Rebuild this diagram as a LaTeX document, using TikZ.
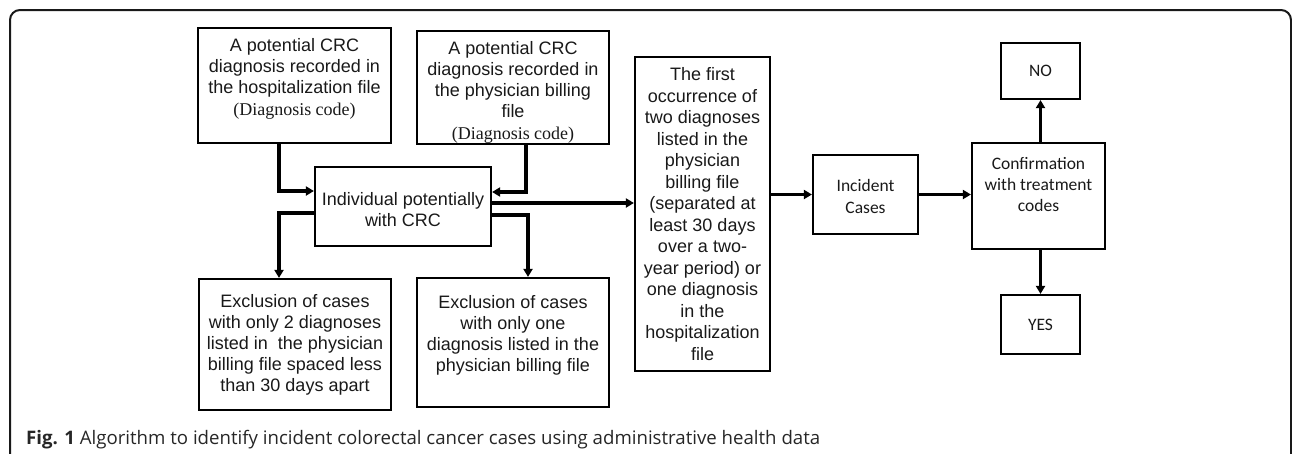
\documentclass[tikz,border=0pt]{standalone}
\usepackage{fontspec}
\usepackage{graphicx}
\setmainfont{Liberation Sans}
\newfontfamily\tnr{Liberation Serif}
\newfontfamily\calib{Carlito}
\newfontfamily\capfont{Open Sans}
\usetikzlibrary{arrows.meta}
\newcommand{\bxt}[4]{\parbox[c][#2][#3]{#1}{\centering #4}}
\begin{document}
\begin{tikzpicture}[x=1pt,y=-1pt,
  box/.style={draw=black, line width=2.2pt, inner sep=0pt, text=black!90, font=\fontsize{18}{21}\selectfont},
  cbox/.style={box, font=\calib\fontsize{17.5}{22}\selectfont},
  arr/.style={line width=3.2pt, -{Triangle[length=8pt,width=9pt]}}]
\useasboundingbox (0,0) rectangle (1292,453);
\draw[line width=2pt, rounded corners=10pt, black!90] (10,500) -- (10,10) -- (1291,10) -- (1291,500);

\node[box] (A) at (294.5,85.5) {\bxt{193pt}{115pt}{t}{\vspace*{10pt}A potential CRC\\ diagnosis recorded in\\ the hospitalization file\\[1pt] {\tnr (Diagnosis code)}}};
\node[box] (B) at (513,87.5) {\bxt{192pt}{113pt}{t}{\vspace*{10pt}A potential CRC\\ diagnosis recorded in\\ the physician billing\\ file\\[1pt] {\tnr (Diagnosis code)}}};
\node[box] (C) at (403,206.5) {\bxt{176pt}{79pt}{c}{\vspace*{6pt}Individual potentially\\ with CRC}};
\node[box] (D) at (295,344.5) {\bxt{192pt}{131pt}{c}{Exclusion of cases\\ with only 2 diagnoses\\ listed in\ \ the physician\\ billing file spaced less\\ than 30 days apart}};
\node[box] (E) at (513,342.5) {\bxt{192pt}{129pt}{t}{\vspace*{17pt}Exclusion of cases\\ with only one\\ diagnosis listed in the\\ physician billing file}};
\node[box, font=\fontsize{18}{21.5}\selectfont] (F) at (702.5,214) {\bxt{135pt}{314pt}{c}{The first\\ occurrence of\\ two diagnoses\\ listed in the\\ physician\\ billing file\\ (separated at\\ least 30 days\\ over a two-\\ year period) or\\ one diagnosis\\ in the\\ hospitalization\\ file}};
\node[cbox] (G) at (865.5,194.5) {\bxt{105pt}{79pt}{c}{\vspace*{3pt}Incident\\ Cases}};
\node[cbox, font=\calib\fontsize{17.5}{21}\selectfont] (H) at (1038.5,196) {\bxt{133pt}{106pt}{t}{\vspace*{14pt}Confirmation\\ with treatment\\ codes}};
\node[cbox] (NO) at (1040.5,71) {\bxt{79pt}{56pt}{c}{NO}};
\node[cbox] (YES) at (1040.5,324.5) {\bxt{79pt}{59pt}{c}{YES}};

\draw[arr] ([xshift=-15.5pt]A.south) |- ([yshift=15.5pt]C.west);
\draw[arr] ([xshift=13pt]B.south) |- ([yshift=14.5pt]C.east);
\draw[arr] ([yshift=-6.5pt]C.west) -| ([xshift=-16pt]D.north);
\draw[arr] ([yshift=-8.5pt]C.east) -| ([xshift=15pt]E.north);
\coordinate (cf) at ([yshift=3.5pt]C.east);
\draw[arr] (cf) -- (cf -| F.west);
\draw[arr] (F.east |- G.west) -- (G.west);
\draw[arr] (G.east) -- (G.east -| H.west);
\draw[arr] (NO.south |- H.north) -- (NO.south);
\draw[arr] (YES.north |- H.south) -- (YES.north);

\node[anchor=base west, inner sep=0pt, text=black!85, font=\capfont\fontsize{18.6}{22}\selectfont] (cap) at (26,444) {\resizebox{794pt}{!}{\textbf{Fig. 1} Algorithm to identify incident colorectal cancer cases using administrative health data}};
\end{tikzpicture}
\end{document}
